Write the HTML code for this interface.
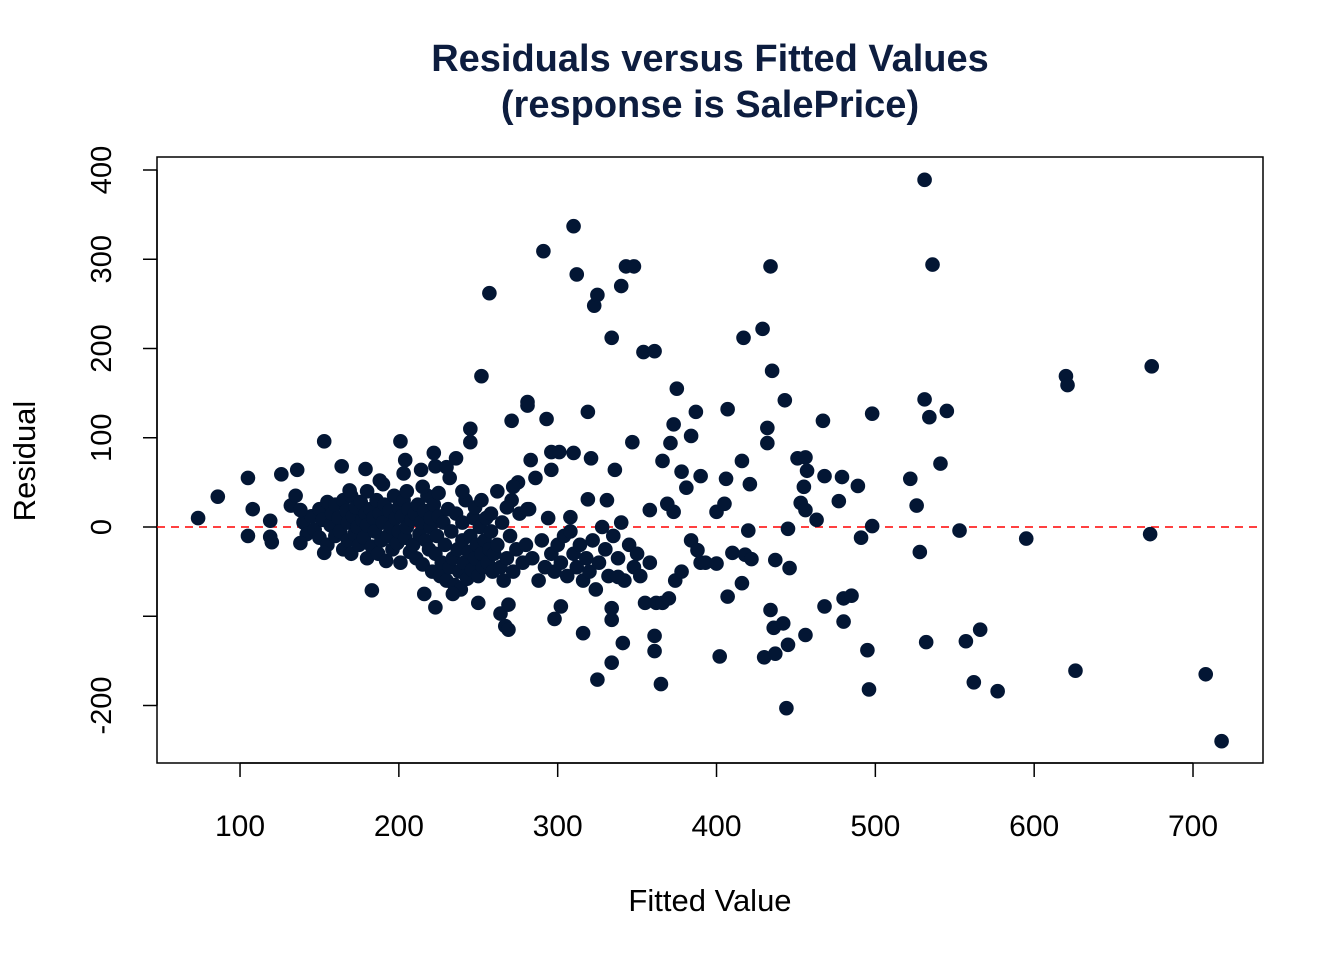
<!DOCTYPE html>
<html><head><meta charset="utf-8"><style>
html,body{margin:0;padding:0;background:#fff;}
svg{display:block;font-family:"Liberation Sans",Arial,sans-serif;}
</style></head><body>
<svg id="chart" width="1344" height="960" viewBox="0 0 1344 960">
<text x="710" y="71" text-anchor="middle" font-size="38" font-weight="bold" fill="#0d1d3f">Residuals versus Fitted Values</text>
<text x="710" y="117" text-anchor="middle" font-size="38" font-weight="bold" fill="#0d1d3f">(response is SalePrice)</text>
<rect x="157" y="157" width="1106" height="606" fill="none" stroke="#000" stroke-width="1.5"/>
<g id="axes"></g>
<g id="points"></g>
<text x="710" y="911" text-anchor="middle" font-size="31" fill="#000">Fitted Value</text>
<text transform="translate(35,461) rotate(-90)" text-anchor="middle" font-size="31" fill="#000">Residual</text>
</svg>
<script>
const xTicks=[100,200,300,400,500,600,700];
const yTicks=[-200,-100,0,100,200,300,400];
const yTickLabels=["-200","","0","100","200","300","400"];
const outlierX=[73.6,86,105,105,108,119,119,120,126,132,135,136,138,138,153,153,164,169,179,183,188,201,204,203,214,222,223,230,236,245,245,252,257,216,223,234,250,264,267,269,269,271,281,281,283,281,291,293,296,296,301,298,302,310,312,310,308,319,321,319,316,323,325,325,334,334,334,334,331,336,338,340,343,348,341,347,354,361,358,361,361,365,366,369,373,371,375,373,378,381,384,387,390,384,388,390,393,400,400,402,405,407,407,406,410,416,416,417,418,420,421,422,429,430,432,432,434,435,437,437,434,436,443,444,445,445,446,442,451,456,457,455,453,456,456,463,467,468,468,477,479,480,480,485,489,491,495,496,498,498,522,526,528,531,531,532,534,536,541,545,553,557,562,566,577,595,620,621,626,673,674,708,718];
const outlierY=[10,34,55,-10,20,7,-11,-17,59,24,35,64,19,-18,96,-29,68,41,65,-71,52,96,75,60,64,83,68,67,77,110,95,169,262,-75,-90,-75,-85,-97,-111,-115,-87,119,136,140,75,20,309,121,84,64,84,-103,-89,337,283,83,11,129,77,31,-119,248,260,-171,212,-152,-104,-91,30,64,-56,270,292,292,-130,95,196,197,19,-122,-139,-176,74,26,17,94,155,115,62,44,102,129,57,-15,-26,-40,-40,-41,17,-145,26,-78,132,54,-29,74,-63,212,-31,-4,48,-36,222,-146,111,94,292,175,-37,-142,-93,-113,142,-203,-2,-132,-46,-108,77,78,63,45,27,19,-121,8,119,57,-89,29,56,-80,-106,-77,46,-12,-138,-182,127,1,54,24,-28,143,389,-129,123,294,71,130,-4,-128,-174,-115,-184,-13,169,159,-161,-8,180,-165,-240];
const clusterX=[140,142,145,147,150,150,152,155,155,157,158,160,160,162,163,165,165,167,168,168,170,170,171,172,173,174,175,176,177,178,179,180,180,180,182,183,184,185,186,187,188,189,190,191,192,193,194,195,196,197,198,199,200,200,201,202,203,204,205,206,207,208,209,210,211,212,213,214,215,216,217,218,219,220,220,221,222,223,224,225,226,227,228,229,230,231,232,233,234,235,236,237,238,239,240,240,241,242,243,244,245,246,247,248,249,250,251,252,253,254,255,256,257,258,259,260,262,264,265,266,268,270,271,272,274,275,276,278,280,282,284,286,288,290,292,294,296,298,300,302,304,306,308,310,312,314,316,318,320,322,324,326,328,330,332,335,338,340,342,345,348,350,352,355,358,362,366,370,374,378,190,205,215,225,232,240,248,252,258,262,268,272];
const clusterY=[5,-8,12,-3,20,-12,8,28,-20,2,15,-10,25,10,-5,30,-25,18,-15,5,35,-30,12,-8,22,0,-20,28,8,-12,15,-35,40,2,20,-22,10,-5,30,-30,15,-15,5,25,-38,-10,18,0,-25,35,10,-18,22,-5,-40,12,30,-12,0,20,-28,8,-20,15,-35,25,-8,5,-42,18,-15,35,-25,0,10,-50,25,-30,-10,12,-55,-40,5,-20,-60,20,-45,-5,-35,-65,15,-25,-50,-70,5,-15,-40,30,-58,-28,-10,-48,10,-35,-20,-55,0,-30,-45,-15,10,-40,-25,-5,-50,-30,-20,-45,5,-60,-35,-10,30,-50,-25,50,15,-40,-20,20,-35,55,-60,-15,-45,10,-30,-50,-20,-40,-10,-55,-5,-30,-45,-20,-60,-35,-50,-15,-70,-40,0,-25,-55,-10,-35,5,-60,-20,-45,-30,-55,-85,-40,-85,-85,-80,-60,-50,48,40,45,38,55,40,22,30,15,40,22,45];
const NS="http://www.w3.org/2000/svg";
const L=157,R=1263,T=157,B=763;
function xs(v){return 81.2+v*1.5883;}
function ys(v){return 527-v*0.8925;}
const ax=document.getElementById('axes');
function mk(tag,attrs,parent){const e=document.createElementNS(NS,tag);for(const k in attrs)e.setAttribute(k,attrs[k]);parent.appendChild(e);return e;}
mk('line',{x1:xs(xTicks[0]),x2:xs(xTicks[xTicks.length-1]),y1:B,y2:B,stroke:'#000','stroke-width':1.5},ax);
xTicks.forEach(t=>{
  const ln=mk('line',{x1:xs(t),x2:xs(t),y1:B,y2:B+14,stroke:'#000','stroke-width':1.5},ax);
  
  
  const tx=mk('text',{x:xs(t),y:836,'text-anchor':'middle','font-size':30},ax);
  
  
  tx.textContent=t;
});
mk('line',{x1:L,x2:L,y1:ys(yTicks[yTicks.length-1]),y2:ys(yTicks[0]),stroke:'#000','stroke-width':1.5},ax);
yTicks.forEach((t,i)=>{
  const ln=mk('line',{x1:L-14,x2:L,y1:ys(t),y2:ys(t),stroke:'#000','stroke-width':1.5},ax);
  
  
  if(yTickLabels[i]){
    const tx=mk('text',{transform:'translate(111,'+ys(t)+') rotate(-90)','text-anchor':'middle','font-size':29},ax);
    
    
    tx.textContent=yTickLabels[i];
  }
});
const ref=mk('line',{x1:L,x2:R,y1:ys(0),y2:ys(0),stroke:'#ff0000','stroke-width':1.5,'stroke-dasharray':'8,6'},ax);


const pg=document.getElementById('points');
function plot(X,Y){for(let i=0;i<X.length;i++){
  const c=mk('circle',{cx:xs(X[i]),cy:ys(Y[i]),r:7.3,fill:'#031634'},pg);
  
  
}}
plot(clusterX,clusterY);
plot(outlierX,outlierY);
</script>
</body></html>
